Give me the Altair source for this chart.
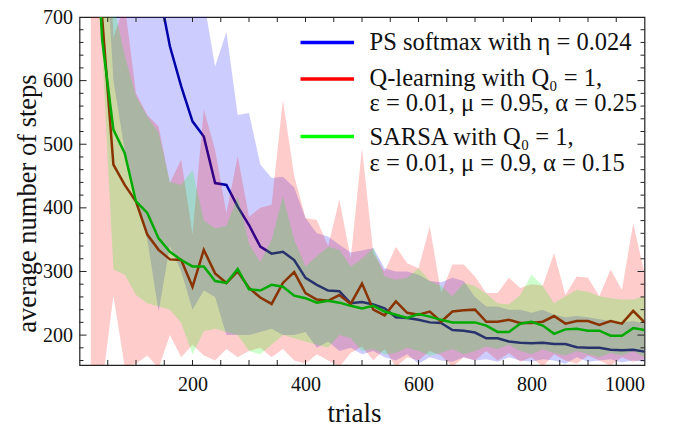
import altair as alt
import pandas as pd

# ---------------- data ----------------
trials = [20, 40, 60, 80, 100, 120, 140, 160, 180, 200,
          220, 240, 260, 280, 300, 320, 340, 360, 380, 400,
          420, 440, 460, 480, 500, 520, 540, 560, 580, 600,
          620, 640, 660, 680, 700, 720, 740, 760, 780, 800,
          820, 840, 860, 880, 900, 920, 940, 960, 980, 1000]

ps_mean = [1400, 1250, 1120, 1020, 930, 840, 745, 654, 591, 536,
           512, 439, 436, 402, 373, 339, 328, 331, 318, 290,
           279, 270, 269, 250, 252, 248, 242, 228, 227, 224,
           220, 219, 208, 207, 204, 195, 195, 190, 188, 187,
           188, 186, 186, 181, 180, 180, 177, 176, 177, 174]
ps_hi = [1800, 1600, 1450, 1300, 1200, 1100, 1000, 920, 850, 790,
         727, 622, 677, 546, 549, 468, 447, 449, 432, 384,
         360, 355, 342, 330, 333, 337, 305, 300, 300, 295,
         285, 283, 290, 285, 260, 245, 245, 240, 240, 235,
         240, 232, 228, 230, 228, 225, 222, 220, 222, 218]
ps_lo = [1100, 900, 600, 490, 420, 350, 237, 340, 300, 240,
         270, 260, 200, 200, 200, 205, 210, 200, 200, 205,
         180, 190, 175, 180, 170, 175, 165, 160, 170, 155,
         165, 160, 158, 165, 160, 162, 158, 165, 160, 158,
         162, 160, 155, 165, 158, 160, 162, 157, 160, 158]

q_mean = [1100, 700, 468, 436, 410, 358, 334, 319, 318, 276,
          334, 297, 282, 300, 274, 259, 249, 282, 299, 266,
          256, 254, 263, 249, 281, 240, 231, 253, 235, 232,
          237, 221, 237, 239, 240, 221, 221, 224, 219, 219,
          221, 230, 218, 222, 222, 216, 222, 218, 238, 220]
q_hi = [1500, 1100, 667, 720, 580, 546, 528, 439, 476, 358,
        555, 491, 392, 481, 386, 400, 405, 570, 450, 384,
        381, 340, 413, 320, 494, 329, 300, 339, 313, 305,
        371, 266, 311, 311, 292, 266, 266, 290, 274, 280,
        278, 329, 263, 292, 290, 261, 303, 271, 376, 297]
q_lo = [100, 120, 262, 150, 155, 168, 148, 200, 165, 185,
        168, 160, 178, 165, 175, 180, 165, 178, 160, 155,
        170, 160, 150, 172, 182, 160, 178, 150, 165, 160,
        175, 168, 150, 165, 160, 175, 160, 172, 158, 165,
        150, 170, 160, 155, 168, 160, 152, 165, 158, 162]

sarsa_mean = [1000, 665, 523, 486, 410, 392, 352, 331, 318, 308,
              308, 285, 282, 304, 272, 270, 279, 276, 262, 258,
              251, 254, 251, 246, 242, 246, 237, 232, 227, 233,
              229, 224, 220, 220, 220, 215, 205, 205, 218, 221,
              215, 202, 209, 210, 207, 207, 199, 199, 211, 208]
sarsa_hi = [1500, 900, 720, 640, 575, 544, 518, 441, 436, 460,
            380, 368, 372, 418, 344, 315, 350, 418, 350, 308,
            324, 339, 334, 308, 320, 337, 292, 287, 290, 305,
            285, 277, 261, 282, 277, 265, 250, 248, 263, 295,
            277, 250, 261, 271, 268, 261, 258, 256, 256, 261]
sarsa_lo = [1100, 650, 303, 295, 263, 250, 245, 240, 219, 170,
            206, 210, 205, 200, 175, 170, 185, 200, 195, 190,
            185, 180, 200, 195, 175, 178, 170, 172, 180, 175,
            168, 172, 178, 170, 175, 182, 178, 185, 175, 170,
            178, 172, 168, 175, 170, 165, 172, 168, 175, 165]

# axis tick values
x_labels = [200, 400, 600, 800, 1000]
y_labels = [200, 300, 400, 500, 600, 700]
x_ticks = [50, 100, 150, 200, 250, 300, 350, 400, 450, 500,
           550, 600, 650, 700, 750, 800, 850, 900, 950]
y_major = [200, 300, 400, 500, 600]
y_minor = [160, 180, 220, 240, 260, 280, 320, 340, 360, 380,
           420, 440, 460, 480, 520, 540, 560, 580, 620, 640, 660, 680]

legend_labels = ["PS softmax with \u03b7 = 0.024",
                 "Q-learning with Q\u2080 = 1,",
                 "\u03b5 = 0.01, \u03bc = 0.95, \u03b1 = 0.25",
                 "SARSA with Q\u2080 = 1,",
                 "\u03b5 = 0.01, \u03bc = 0.9, \u03b1 = 0.15"]

# ---------------- chart ----------------
W, H = 565, 348
FONT = "Liberation Serif, Times New Roman, serif"

df = pd.DataFrame({
    "t": trials,
    "ps_mean": ps_mean, "ps_hi": ps_hi, "ps_lo": ps_lo,
    "q_mean": q_mean, "q_hi": q_hi, "q_lo": q_lo,
    "s_mean": sarsa_mean, "s_hi": sarsa_hi, "s_lo": sarsa_lo,
})

xs = alt.Scale(domain=[0, 1000], nice=False, zero=False)
ys = alt.Scale(domain=[153, 700], nice=False, zero=False)

x_axis = alt.Axis(values=x_labels, format="d", ticks=False, tickSize=0, domain=False,
                  grid=False, labelFont=FONT, labelFontSize=20, labelColor="#111",
                  labelPadding=9, title="trials", titleFont=FONT, titleFontSize=27,
                  titleFontWeight="normal", titleColor="#111", titleX=W / 2 - 8, titleY=56,
                  titleBaseline="alphabetic", titleAlign="center")
y_axis = alt.Axis(values=y_labels, format="d", ticks=False, tickSize=0, domain=False,
                  grid=False, labelFont=FONT, labelFontSize=20, labelColor="#111",
                  labelPadding=7, title="average number of steps", titleFont=FONT,
                  titleFontSize=26.5, titleFontWeight="normal", titleColor="#111",
                  titleX=-44.5, titleY=186, titleBaseline="alphabetic",
                  titleAlign="center", titleAngle=270)


def X(field):
    return alt.X(field, scale=xs, axis=x_axis)


def Y(field):
    return alt.Y(field, scale=ys, axis=y_axis)


base = alt.Chart(df)


def band(lo, hi, color):
    return base.mark_area(clip=True, color=color, fillOpacity=0.2, strokeWidth=0).encode(
        x=X("t:Q"), y=Y(f"{lo}:Q"), y2=alt.Y2(f"{hi}:Q"),
    )


def line(col, color):
    return base.mark_line(clip=True, color=color, strokeWidth=2.5).encode(
        x=X("t:Q"), y=Y(f"{col}:Q"),
    )


layers = [
    band("ps_lo", "ps_hi", "#0000ff"),
    line("ps_mean", "#0000aa"),
    band("q_lo", "q_hi", "#ff0000"),
    line("q_mean", "#aa0000"),
    band("s_lo", "s_hi", "#00ff00"),
    line("s_mean", "#00aa00"),
]

# frame ticks (pointing inward)
tick_col = "#222"
ymaj = alt.Chart(pd.DataFrame({"v": y_major}))
ymin = alt.Chart(pd.DataFrame({"v": y_minor}))
xt = alt.Chart(pd.DataFrame({"t": x_ticks}))
for src, ln in ((ymaj, 7), (ymin, 4)):
    layers.append(src.mark_rule(color=tick_col, strokeWidth=1).encode(
        y=Y("v:Q"), x=alt.value(0), x2=alt.value(ln)))
    layers.append(src.mark_rule(color=tick_col, strokeWidth=1).encode(
        y=Y("v:Q"), x=alt.value(W), x2=alt.value(W - ln)))
layers.append(xt.mark_rule(color=tick_col, strokeWidth=1).encode(
    x=X("t:Q"), y=alt.value(H), y2=alt.value(H - 5)))
layers.append(xt.mark_rule(color=tick_col, strokeWidth=1).encode(
    x=X("t:Q"), y=alt.value(0), y2=alt.value(5)))

# legend
one = alt.Chart(pd.DataFrame({"k": [0]}))
legend_lines = [("#0000ff", 25.5), ("#ff0000", 62), ("#00ff00", 119.5)]
for col, yy in legend_lines:
    layers.append(one.mark_rule(color=col, strokeWidth=3.5).encode(
        x=alt.value(221), x2=alt.value(274.5), y=alt.value(yy)))
legend_y = [26.3, 61.5, 86.5, 120.5, 147]
for lab, yy in zip(legend_labels, legend_y):
    layers.append(one.mark_text(align="left", baseline="middle", font=FONT,
                                fontSize=24.5, color="#111").encode(
        x=alt.value(290), y=alt.value(yy), text=alt.value(lab)))

chart = alt.layer(*layers).properties(
    width=W, height=H,
    autosize=alt.AutoSizeParams(type="none"),
    padding={"left": 79.5, "top": 17, "right": 35.5, "bottom": 61},
    background="white",
).configure_view(stroke="#222", strokeWidth=1.2)

chart.save("out.html", embed_options={"renderer": "svg", "actions": False})
